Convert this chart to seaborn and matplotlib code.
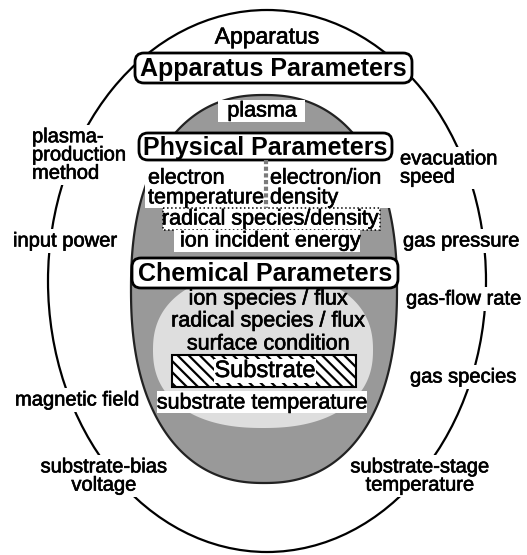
import numpy as np
import matplotlib.pyplot as plt
import matplotlib.patheffects as pe
import seaborn as sns
from matplotlib.patches import Ellipse, Rectangle, FancyBboxPatch, Polygon

sns.set_theme(style="white")
plt.rcParams['font.family'] = ['Liberation Sans', 'DejaVu Sans']
plt.rcParams['text.color'] = 'black'
plt.rcParams['hatch.linewidth'] = 1.6

# texts
title_top = "Apparatus"
headers = ["Apparatus Parameters", "Physical Parameters", "Chemical Parameters"]
plasma_label = "plasma"
physical_left = "electron\ntemperature"
physical_right = "electron/ion\ndensity"
physical_rows = ["radical species/density", "ion incident energy"]
chemical_rows = ["ion species / flux", "radical species / flux", "surface condition"]
substrate_label = "Substrate"
substrate_temp = "substrate temperature"
left_labels = ["plasma-\nproduction\nmethod", "input power", "magnetic field"]
right_labels = ["evacuation\nspeed", "gas pressure", "gas-flow rate", "gas species"]
bottom_labels = ["substrate-bias\nvoltage", "substrate-stage\ntemperature"]

# layout in pixels, y pointing down
header_boxes = [(133, 53, 281, 30), (137, 133, 257, 27), (130, 258, 270, 30)]
left_xy = [(32, 155), (13, 241), (15, 400)]
right_xy = [(400, 168), (403, 241), (406, 299), (410, 377)]
bottom_xy = [(104, 476), (420, 476)]
physical_rows_y = [219, 241]
chemical_rows_y = [299, 321, 344]


def superellipse(cx, cy, a, b, n, num=400):
    t = np.linspace(0, 2 * np.pi, num)
    c, s = np.cos(t), np.sin(t)
    x = cx + a * np.sign(c) * np.abs(c) ** (2 / n)
    y = cy + b * np.sign(s) * np.abs(s) ** (2 / n)
    return np.column_stack([x, y])


fig = plt.figure(figsize=(5.27, 5.55), dpi=100)
ax = fig.add_axes([0, 0, 1, 1])
ax.set_xlim(0, 527)
ax.set_ylim(555, 0)
ax.axis("off")

# thicken glyphs a little, the scan is heavy
ink = [pe.withStroke(linewidth=0.45, foreground="black")]

# outer apparatus ellipse
ax.add_patch(Ellipse((267, 281), 438, 542, fc="white", ec="black", lw=1.6))

# plasma region
ax.add_patch(Polygon(superellipse(264, 289, 133, 194, 2.3), closed=True,
                     fc="#999999", ec="#222222", lw=1.6))
ax.add_patch(Polygon(superellipse(263, 350, 110, 78, 2.3), closed=True,
                     fc="#dedede", ec="none"))

norm = dict(fontsize=14.5, color="black", path_effects=ink)
inner = dict(fontsize=15.5, color="black", path_effects=ink)

ax.text(267, 37, title_top, ha="center", va="center", fontsize=16.5,
        path_effects=ink)

# plasma tag
ax.add_patch(Rectangle((218, 100), 87, 22, fc="white", ec="none"))
ax.text(262, 111, plasma_label, ha="center", va="center", **inner)

# physical block
ax.add_patch(Rectangle((145, 160), 120, 48, fc="white", ec="none"))
ax.add_patch(Rectangle((265, 160), 130, 48, fc="white", ec="none"))
ax.plot([266, 266], [160, 208], color="#7a7a7a", lw=3, ls=(0, (1, 0.6)))
ax.text(148, 188, physical_left, ha="left", va="center", linespacing=0.92, **inner)
ax.text(270, 188, physical_right, ha="left", va="center", linespacing=0.92, **inner)
ax.add_patch(Rectangle((163, 208), 217, 22, fc="white", ec="black", lw=1.1, ls=":"))
ax.add_patch(Rectangle((174, 230), 186, 22, fc="white", ec="none"))
for label, y in zip(physical_rows, physical_rows_y):
    ax.text(270, y, label, ha="center", va="center", **inner)

# chemical block
for label, y in zip(chemical_rows, chemical_rows_y):
    ax.text(268, y, label, ha="center", va="center", **inner)

ax.add_patch(Rectangle((172, 355), 184, 32, fc="white", ec="black", lw=1.5,
                       hatch="\\\\\\"))
ax.text(265, 371, substrate_label, ha="center", va="center", fontsize=17,
        path_effects=ink, bbox=dict(fc="white", ec="none", pad=0.5))
ax.add_patch(Rectangle((157, 391), 210, 22, fc="white", ec="none"))
ax.text(262, 403, substrate_temp, ha="center", va="center", **inner)

# header boxes
for label, (x, y, w, h) in zip(headers, header_boxes):
    ax.add_patch(FancyBboxPatch((x + 6, y + 4), w - 12, h - 8,
                                boxstyle="round,pad=4,rounding_size=9",
                                fc="white", ec="black", lw=2))
    ax.text(x + w / 2, y + h / 2 + 1, label, ha="center", va="center",
            fontsize=18, fontweight="bold", color="black")

# labels on the apparatus ring
box = dict(fc="white", ec="none", pad=1.5)
for label, (x, y) in zip(left_labels, left_xy):
    ax.text(x, y, label, ha="left", va="center", linespacing=0.95, bbox=box, **norm)
for label, (x, y) in zip(right_labels, right_xy):
    ax.text(x, y, label, ha="left", va="center", linespacing=0.95, bbox=box, **norm)
for label, (x, y) in zip(bottom_labels, bottom_xy):
    ax.text(x, y, label, ha="center", va="center", linespacing=0.95, bbox=box, **norm)

fig.savefig("out.png", dpi=100)
